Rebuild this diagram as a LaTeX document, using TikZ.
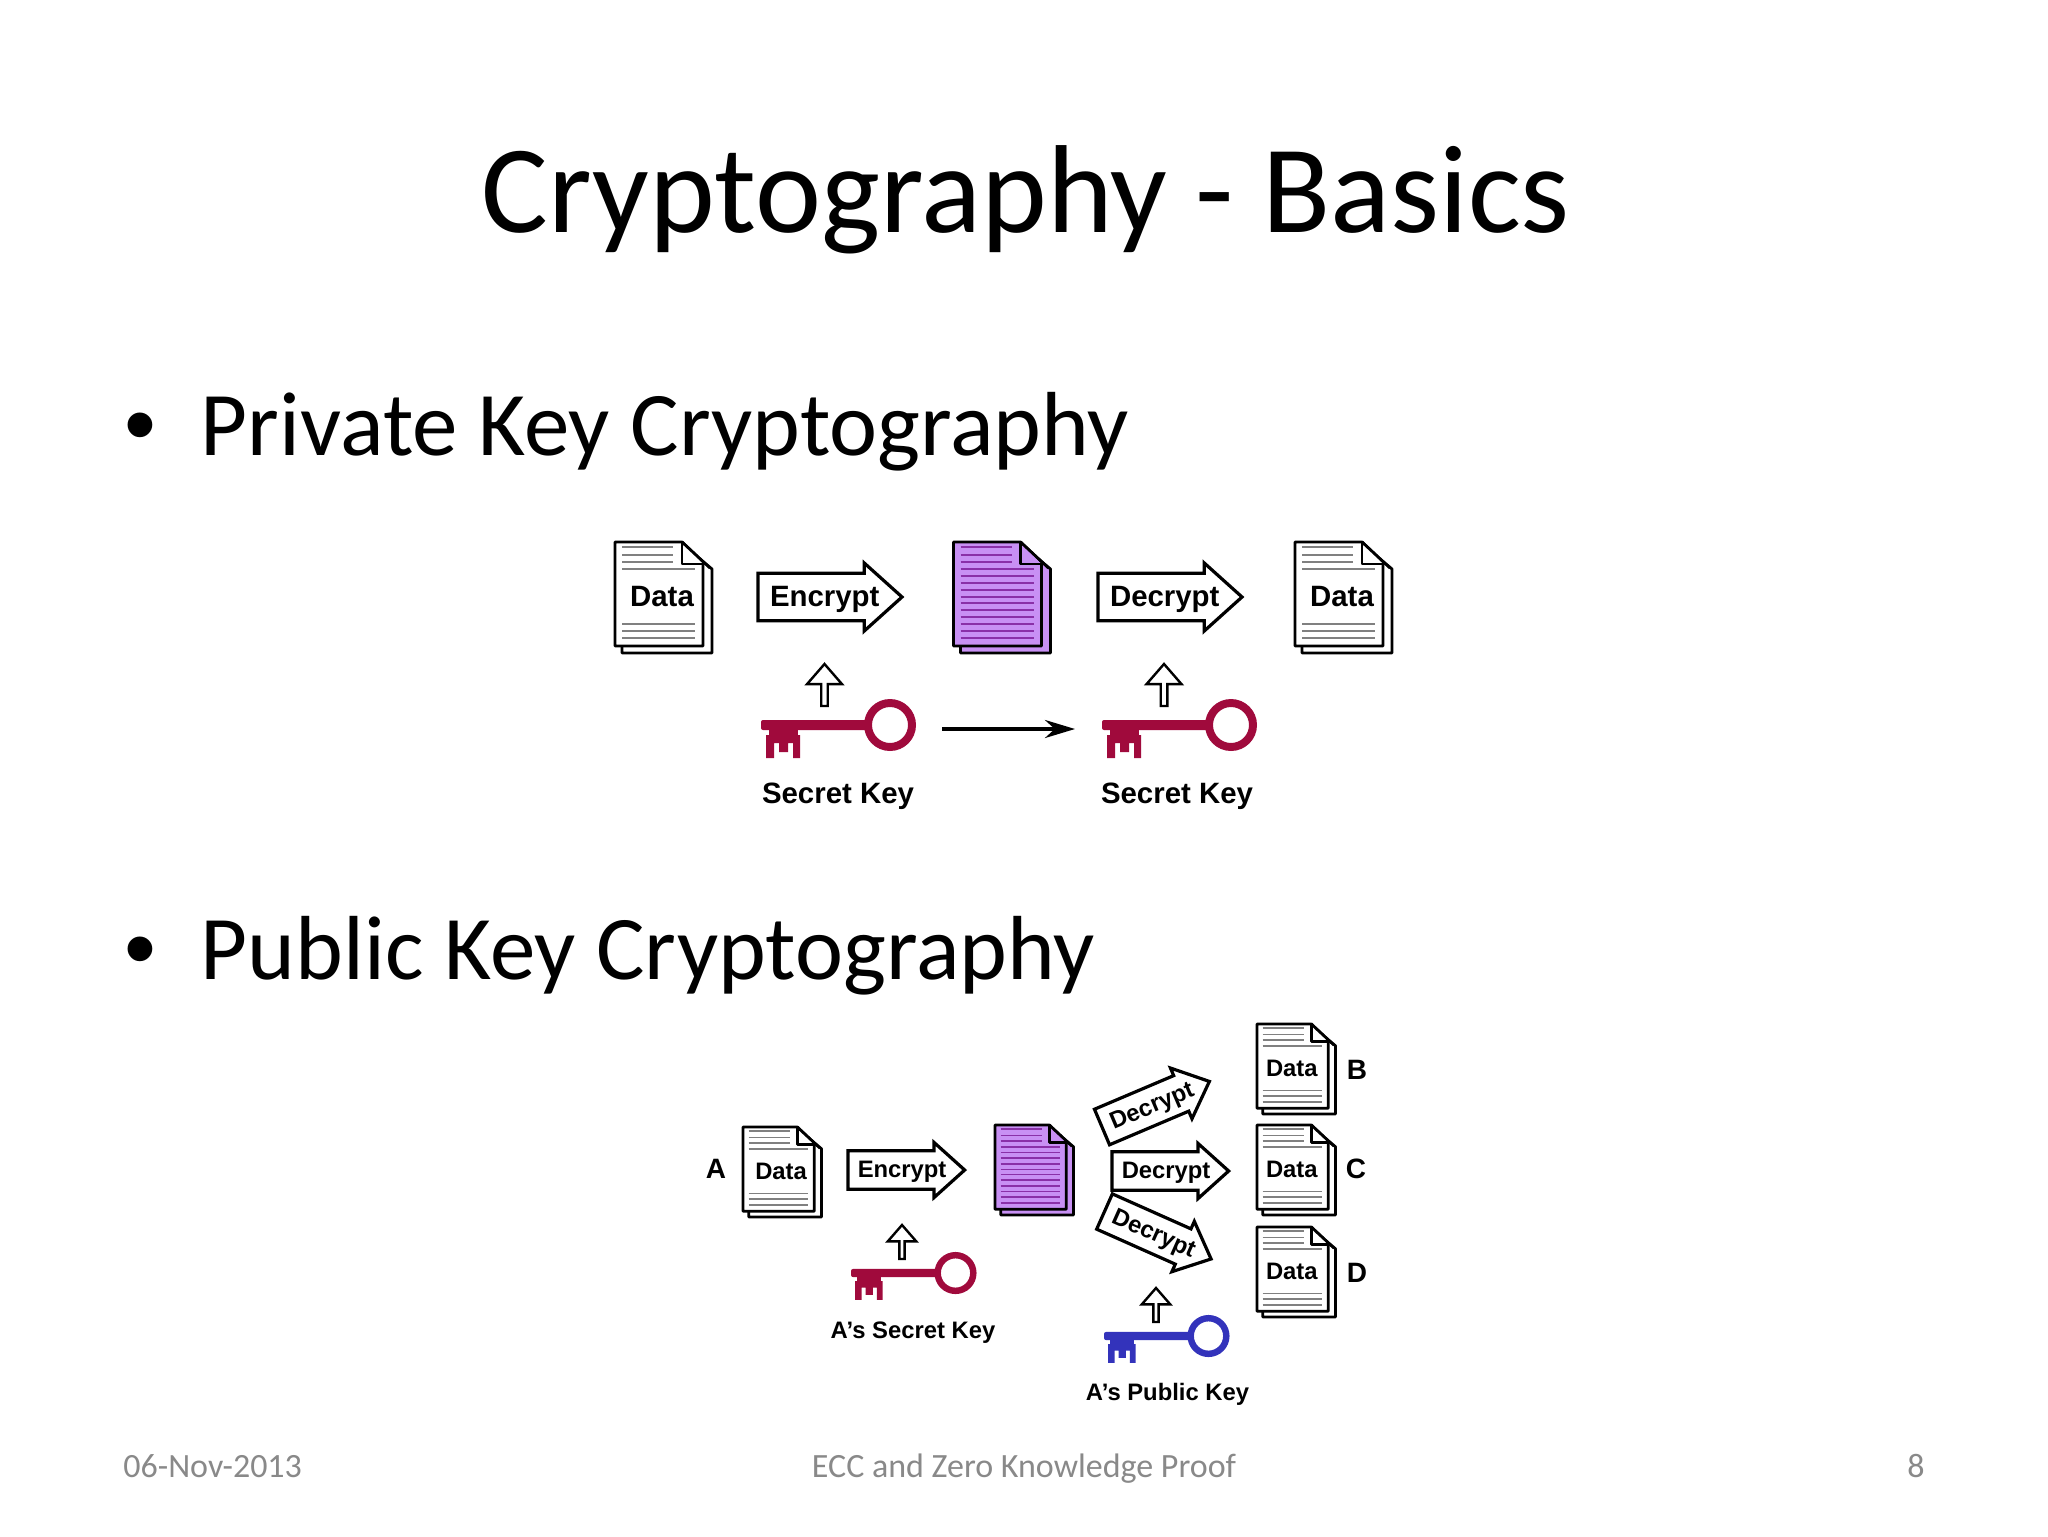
\documentclass[tikz,border=0pt]{standalone}
\usepackage{fontspec}
\setmainfont{Carlito}
\setsansfont{Liberation Sans}
\usetikzlibrary{positioning,shapes.arrows,arrows.meta}
\definecolor{keyred}{HTML}{A00A3C}
\definecolor{keyblue}{HTML}{3333BB}
\definecolor{cipherfill}{HTML}{C890F4}
\definecolor{cipherline}{HTML}{8A30A8}
\definecolor{footgray}{HTML}{898989}
\newcommand{\docsheet}[1]{
	\draw[sheetline,fill=#1] (85,17) -- (97,27) -- (97,111) -- (7,111) -- (7,100);
	\draw[sheetline,fill=#1] (0,0) -- (67,0) -- (88,20) -- (88,104) -- (0,104) -- cycle;
	\draw[sheetline,fill=#1] (67,0) -- (67,22) -- (88,22);
	\draw[sheetline] (67,0) -- (95,26);
}
\tikzset{
	sheetline/.style={line width=1.4pt,line join=round},
	datatext/.style={},
	datadoc/.pic={
		\docsheet{white}
		\foreach \ly in {5,13,20}
			\draw[gray,line width=.8pt] (7,\ly) -- (58,\ly);
		\foreach \ly in {27,82,89,96}
			\draw[gray,line width=.8pt] (7,\ly) -- (80,\ly);
		\node[iconlabel,datatext] (-text) at (47,55) {Data};
	},
	cipherdoc/.pic={
		\docsheet{cipherfill}
		\foreach \ly in {5,13,20}
			\draw[cipherline,line width=.8pt] (7,\ly) -- (58,\ly);
		\foreach \ly in {27,34,41,48,55,61,68,75,82,89,96}
			\draw[cipherline,line width=.8pt] (7,\ly) -- (80,\ly);
	},
	keyicon/.pic={
		\fill[keytint,rounded corners=1pt] (0,-5) rectangle (106,5);
		\fill[keytint,even odd rule] (129,0) circle (26) (129,0) circle (18);
		\fill[keytint] (8,5) rectangle (37,10);
		\fill[keytint] (5,10) -- (39,10) -- (39,33) -- (32,33) -- (32,18) -- (27,18) -- (27,27)
			-- (18,27) -- (18,18) -- (13,18) -- (13,33) -- (5,33) -- cycle;
		\coordinate (-west) at (0,4);
		\coordinate (-east) at (155,4);
	},
	keytint/.style={fill=keyred},
	iconlabel/.style={inner sep=0pt,font=\sffamily\bfseries\fontsize{14.7}{17}\selectfont},
	tagfont/.style={inner sep=0pt,font=\sffamily\bfseries\fontsize{14}{17}\selectfont},
	flowarrow/.style={single arrow,draw,line width=1.6pt,inner sep=0pt,outer sep=0pt,anchor=tail,
		minimum height=72pt,minimum width=34pt,single arrow head extend=2.9pt,
		single arrow tip angle=84,iconlabel,text height=10.5pt,text depth=1.5pt,
		execute at begin node=\hspace*{5pt},execute at end node=\hspace*{-3pt}},
	uparrow/.style={single arrow,draw,line width=1.2pt,inner sep=0pt,outer sep=0pt,anchor=tail,rotate=90,
		minimum height=21pt,minimum width=17.5pt,single arrow head extend=2.6pt,
		single arrow tip angle=82},
	small/.style={scale=.81,transform shape},
	bodytext/.style={anchor=base west,inner sep=0pt,font=\fontsize{45.5}{50}\selectfont},
	foot/.style={anchor=base,inner sep=0pt,text=footgray,font=\fontsize{17}{20}\selectfont}
}
\begin{document}
\begin{tikzpicture}[x=0.5pt,y=-0.5pt,node distance=171.5pt]
	\useasboundingbox (0,0) rectangle (2048,1536);
	\node[anchor=base,inner sep=0pt,font=\fontsize{62.6}{70}\selectfont] (title) at (1026,232) {Cryptography - Basics};
	\node[bodytext] (bulletA) at (124,455) {\sffamily •};
	\node[bodytext] (privhead) at (200.5,455) {Private Key Cryptography};
	\node[bodytext] (bulletB) at (124,979.5) {\sffamily •};
	\node[bodytext] (pubhead) at (200.5,979.5) {Public Key Cryptography};
	% private key row
	\pic at (615,542) {datadoc};
	\node[flowarrow] (encA) at (758,597) {Encrypt};
	\pic at (953.5,542) {cipherdoc};
	\node[flowarrow] (decA) at (1098,597) {Decrypt};
	\pic at (1295,542) {datadoc};
	\node[uparrow] (upA) at (824.5,706) {};
	\node[uparrow] (upB) at (1164,706) {};
	\pic (keyA) at (761,725) {keyicon};
	\pic (keyB) at (1102,725) {keyicon};
	\draw[-{Stealth[length=15pt,width=9pt]},line width=1.75pt] ([xshift=13pt]keyA-east) -- ([xshift=-13.5pt]keyB-west);
	\node[iconlabel,anchor=base] (skA) at (838,803) {Secret Key};
	\node[iconlabel,anchor=base] (skB) at (1177,803) {Secret Key};
	% public key row
	\node[tagfont] (tagA) at (716,1169) {A};
	\pic[small] at (743,1127) {datadoc};
	\node[flowarrow,small] (encB) at (848,1170) {Encrypt};
	\pic[small] at (995,1125) {cipherdoc};
	\node[flowarrow,small,rotate=23] (decB) at (1102,1127) {Decrypt};
	\node[flowarrow,small] (decC) at (1112,1171) {Decrypt};
	\node[flowarrow,small,rotate=-24] (decD) at (1104.5,1211.5) {Decrypt};
	\pic[small,datatext/.style={xshift=-2pt}] at (1257,1024) {datadoc};
	\pic[small,datatext/.style={xshift=-2pt}] at (1257,1125) {datadoc};
	\pic[small,datatext/.style={xshift=-2pt}] at (1257,1227) {datadoc};
	\node[tagfont] (tagB) at (1357,1070) {B};
	\node[tagfont] (tagC) at (1356,1169) {C};
	\node[tagfont] (tagD) at (1357,1273) {D};
	\node[uparrow,small] (upC) at (902,1259) {};
	\node[uparrow,small] (upD) at (1156,1322) {};
	\pic[small] (keyC) at (851,1273) {keyicon};
	\pic[small,keytint/.style={fill=keyblue}] (keyD) at (1104,1336) {keyicon};
	\node[iconlabel,small,anchor=base] (skC) at (913,1338) {A’s Secret Key};
	\node[iconlabel,small,anchor=base] (pkD) at (1167.5,1400) {A’s Public Key};
	% footer
	\node[foot,anchor=base west] (date) at (123,1477) {06-Nov-2013};
	\node[foot] (talk) at (1024,1477) {ECC and Zero Knowledge Proof};
	\node[foot,anchor=base east] (page) at (1925,1477) {8};
\end{tikzpicture}
\end{document}
